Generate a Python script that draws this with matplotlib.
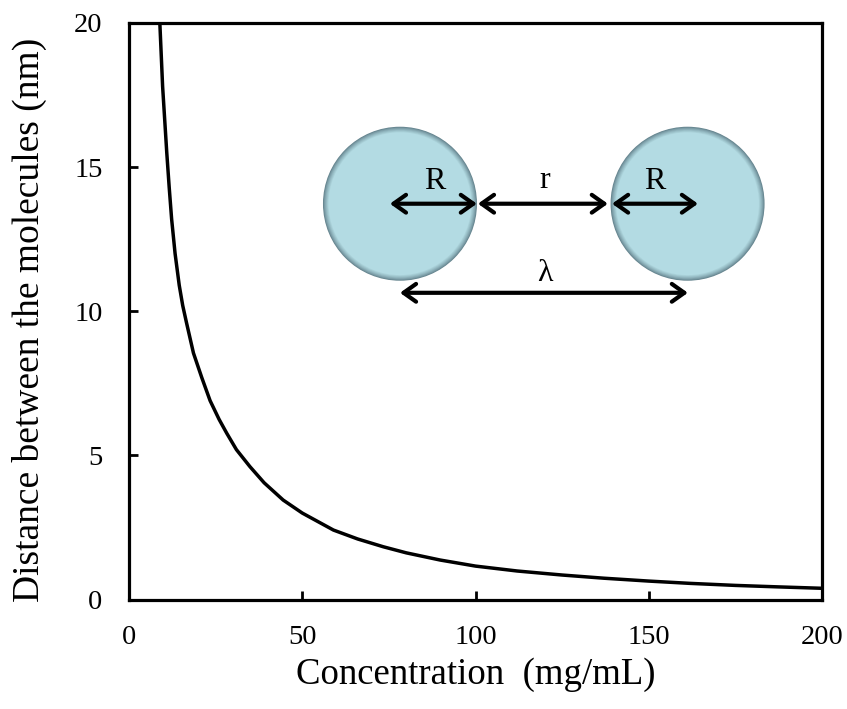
import numpy as np
import matplotlib
matplotlib.use("Agg")
import matplotlib.pyplot as plt
from matplotlib.patches import Circle
from matplotlib.transforms import ScaledTranslation

plt.rcParams['font.family'] = ['Liberation Serif', 'DejaVu Serif']

# values
concentration = [8.9, 9.7, 10.9, 11.6, 12.3, 13.3, 14.5, 15.5, 16.6, 18.6, 21.0, 23.4,
                 26.0, 28.2, 31.0, 34.9, 39.0, 44.5, 50.0, 59.0, 66.0, 73.4, 80.0,
                 89.8, 100.0, 112.0, 125.0, 137.0, 150.0, 162.0, 175.0, 187.0, 200.0]
distance = [20.0, 17.8, 15.5, 14.3, 13.2, 12.0, 10.9, 10.2, 9.6, 8.55, 7.7, 6.9,
            6.25, 5.77, 5.2, 4.61, 4.05, 3.45, 3.0, 2.41, 2.1, 1.83, 1.62,
            1.37, 1.16, 0.99, 0.85, 0.74, 0.64, 0.56, 0.49, 0.44, 0.39]

x_ticks = [0, 50, 100, 150, 200]
y_ticks = [0, 5, 10, 15, 20]

fig = plt.figure(figsize=(8.47, 7.09), dpi=100)
ax = fig.add_axes([0.1523, 0.1544, 0.8182, 0.8132])

ax.plot(concentration, distance, color='black', lw=2.5, solid_capstyle='round',
        solid_joinstyle='round')
ax.set_xlim(0, 200)
ax.set_ylim(0, 20)
ax.set_xticks(x_ticks)
ax.set_yticks(y_ticks)
ax.tick_params(direction='in', length=6.5, width=2, labelsize=20.5, pad=18)
ax.tick_params(axis='y', pad=19)
for s in ax.spines.values():
    s.set_linewidth(2.3)

ax.set_xlabel('Concentration  (mg/mL)', fontsize=26.5)
ax.xaxis.set_label_coords(0.5, -0.1)
ax.set_ylabel('Distance between the molecules (nm)', fontsize=27)
ax.yaxis.set_label_coords(-0.118, 0.485)

# sketch of two molecules
def molecule(cx, cy, r=0.77):
    edge = np.array([0.40, 0.52, 0.56])
    fill = np.array([0.70, 0.86, 0.89])
    n = 8
    for i in range(n):
        t = (i / (n - 1)) ** 0.8
        col = edge * (1 - t) + fill * t
        c = Circle((0, 0), r - i * 0.008, facecolor=col, edgecolor='none',
                   transform=fig.dpi_scale_trans + ScaledTranslation(cx, cy, ax.transData),
                   zorder=3)
        ax.add_patch(c)

molecule(78.2, 13.73)
molecule(161.2, 13.73)

arrow_kw = dict(arrowstyle='<->,head_length=0.45,head_width=0.32', lw=3.0,
                color='black', mutation_scale=20, shrinkA=0, shrinkB=0)
ax.annotate('', xy=(100.4, 13.73), xytext=(75.3, 13.73), arrowprops=arrow_kw, zorder=4)
ax.annotate('', xy=(138.2, 13.73), xytext=(100.7, 13.73), arrowprops=arrow_kw, zorder=4)
ax.annotate('', xy=(164.2, 13.73), xytext=(139.4, 13.73), arrowprops=arrow_kw, zorder=4)
ax.annotate('', xy=(161.3, 10.64), xytext=(78.2, 10.64), arrowprops=arrow_kw, zorder=4)

ax.text(88.3, 14.5, 'R', fontsize=23, ha='center', va='center', zorder=5)
ax.text(120.0, 14.55, 'r', fontsize=23, ha='center', va='center', zorder=5)
ax.text(151.8, 14.5, 'R', fontsize=23, ha='center', va='center', zorder=5)
ax.text(120.0, 11.3, 'λ', fontsize=23, ha='center', va='center', zorder=5)

fig.savefig('out.png', dpi=100)
